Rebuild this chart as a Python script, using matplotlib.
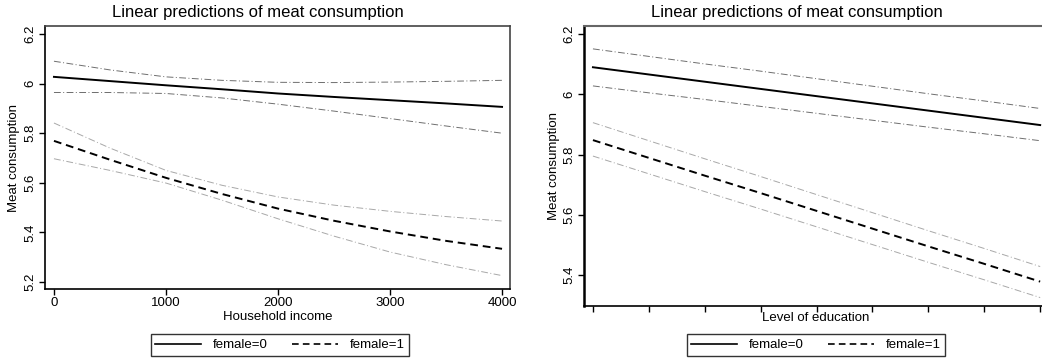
import matplotlib
matplotlib.use('Agg')
import matplotlib.pyplot as plt
from matplotlib.lines import Line2D

plt.rcParams['font.family'] = ['Liberation Sans', 'DejaVu Sans']

# household income panel
income = [0, 500, 1000, 1500, 2000, 2500, 3000, 3500, 4000]
inc_m0 = [6.027, 6.010, 5.993, 5.977, 5.960, 5.946, 5.933, 5.920, 5.906]
inc_hi0 = [6.090, 6.055, 6.027, 6.013, 6.005, 6.004, 6.006, 6.009, 6.013]
inc_lo0 = [5.964, 5.964, 5.960, 5.942, 5.917, 5.889, 5.859, 5.829, 5.800]
inc_m1 = [5.769, 5.693, 5.620, 5.555, 5.496, 5.447, 5.404, 5.366, 5.334]
inc_hi1 = [5.841, 5.740, 5.650, 5.590, 5.543, 5.510, 5.485, 5.464, 5.446]
inc_lo1 = [5.697, 5.650, 5.599, 5.530, 5.455, 5.385, 5.321, 5.270, 5.226]

# education panel
educ = [1, 2, 3, 4, 5, 6, 7, 8, 9]
edu_m0 = [6.090, 6.066, 6.042, 6.018, 5.994, 5.970, 5.946, 5.922, 5.898]
edu_hi0 = [6.151, 6.126, 6.101, 6.077, 6.052, 6.027, 6.002, 5.978, 5.953]
edu_lo0 = [6.028, 6.005, 5.983, 5.960, 5.937, 5.914, 5.891, 5.869, 5.846]
edu_m1 = [5.848, 5.789, 5.730, 5.672, 5.613, 5.554, 5.495, 5.437, 5.378]
edu_hi1 = [5.906, 5.846, 5.786, 5.727, 5.667, 5.607, 5.547, 5.488, 5.428]
edu_lo1 = [5.795, 5.736, 5.677, 5.619, 5.560, 5.501, 5.442, 5.384, 5.325]

TITLE = 'Linear predictions of meat consumption'
W, H = 1042, 362

fig = plt.figure(figsize=(W / 100, H / 100), dpi=100)

ci_style = dict(linestyle=(0, (7, 2.5, 1, 2.5)), linewidth=0.7)
ci_dark = '#6e6e6e'
ci_light = '#a8a8a8'


def draw_panel(ax, x, m0, hi0, lo0, m1, hi1, lo1):
    ax.plot(x, hi0, color=ci_dark, **ci_style)
    ax.plot(x, lo0, color=ci_dark, **ci_style)
    ax.plot(x, hi1, color=ci_light, **ci_style)
    ax.plot(x, lo1, color=ci_light, **ci_style)
    ax.plot(x, m0, color='black', linewidth=1.4)
    ax.plot(x, m1, color='black', linewidth=1.4, linestyle=(0, (4, 2.5)))
    ax.tick_params(length=4, width=1, labelsize=9.5, pad=2)
    plt.setp(ax.get_yticklabels(), rotation=90, va='center')
    ax.set_ylabel('Meat consumption', fontsize=9.5, labelpad=3)
    for s in ax.spines.values():
        s.set_linewidth(1.2)


def add_legend(xc):
    handles = [Line2D([], [], color='black', linewidth=1.2),
               Line2D([], [], color='black', linewidth=1.2, linestyle=(0, (4, 2.5)))]
    fig.legend(handles, ['female=0', 'female=1'], loc='center',
               bbox_to_anchor=(xc / W, 1 - 345 / H), ncol=2, fontsize=9.5,
               handlelength=3.5, columnspacing=1.8, handletextpad=0.9,
               frameon=True, fancybox=False, edgecolor='black',
               borderpad=0.35, borderaxespad=0)


# left panel
ax1 = fig.add_axes([45 / W, 1 - 289 / H, 465 / W, 263 / H])
draw_panel(ax1, income, inc_m0, inc_hi0, inc_lo0, inc_m1, inc_hi1, inc_lo1)
ax1.set_xlim(-80, 4071)
ax1.set_ylim(5.172, 6.232)
ax1.set_xticks([0, 1000, 2000, 3000, 4000])
ax1.set_yticks([5.2, 5.4, 5.6, 5.8, 6.0, 6.2])
ax1.set_yticklabels(['5.2', '5.4', '5.6', '5.8', '6', '6.2'])
ax1.set_xlabel('Household income', fontsize=9.5, labelpad=1)
for s in ['top', 'right']:
    ax1.spines[s].set_color('#444444')
fig.text(258 / W, 1 - 13 / H, TITLE, ha='center', va='center', fontsize=12)
add_legend(280)

# right panel
ax2 = fig.add_axes([584 / W, 1 - 306 / H, 464 / W, 280 / H])
draw_panel(ax2, educ, edu_m0, edu_hi0, edu_lo0, edu_m1, edu_hi1, edu_lo1)
ax2.set_xlim(0.84, 9.14)
ax2.set_ylim(5.297, 6.227)
ax2.set_xticks(educ)
ax2.set_xticklabels([])
ax2.set_yticks([5.4, 5.6, 5.8, 6.0, 6.2])
ax2.set_yticklabels(['5.4', '5.6', '5.8', '6', '6.2'])
ax2.set_xlabel('Level of education', fontsize=9.5)
ax2.xaxis.set_label_coords(0.5, -0.02)
ax2.spines['left'].set_linewidth(1.8)
ax2.spines['top'].set_color('#666666')
ax2.spines['top'].set_linewidth(1.5)
fig.text(797 / W, 1 - 13 / H, TITLE, ha='center', va='center', fontsize=12)
add_legend(816)

fig.savefig('out.png', dpi=100)
